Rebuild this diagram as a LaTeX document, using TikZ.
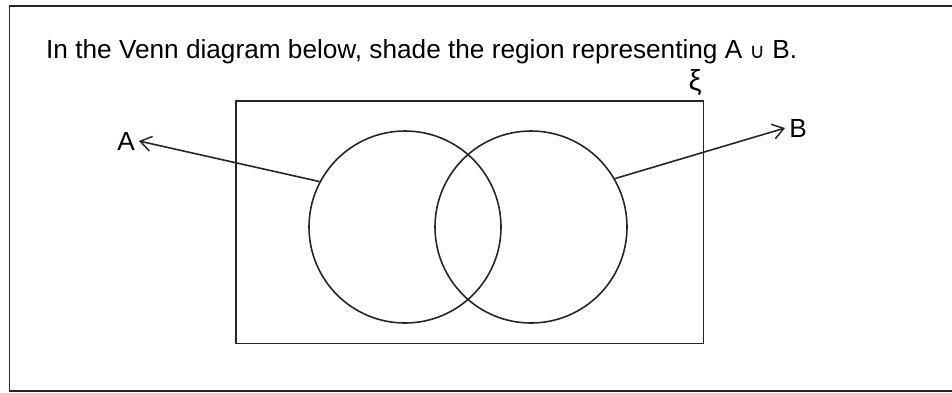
\documentclass[tikz,border=0pt]{standalone}
\usepackage{fontspec}
\setmainfont{Liberation Sans}
\newfontfamily\symfont{DejaVu Sans}
\usetikzlibrary{arrows.meta}
\begin{document}
\begin{tikzpicture}[x=1pt,y=-1pt,
  lbl/.style={font=\fontsize{26.2}{31}\selectfont, inner sep=3pt},
  ln/.style={line width=1.6pt, draw=black!85},
  setc/.style={circle, ln, minimum size=192pt, inner sep=0pt},
  pointer/.style={ln, -{Straight Barb[length=11pt,width=15pt,line width=1.5pt]}}]
\useasboundingbox (0,0) rectangle (952,392);
% outer frame (right side lies outside the picture)
\draw[line width=1.7pt, draw=black!85] (965,6) -- (9.5,6) -- (9.5,391) -- (965,391);
% title
\node[lbl, anchor=base west, inner sep=0pt] (title) at (46,58)
  {In the Venn diagram below, shade the region representing A {\symfont\fontsize{21}{24}\selectfont ∪} B.};
% universal set
\node[ln, draw, rectangle, minimum width=467.5pt, minimum height=242.5pt, anchor=north west, inner sep=0pt] (U) at (235,100) {};
\node[lbl, font=\fontsize{29}{33}\selectfont] (xi) at (695,82) {ξ};
% sets
\node[setc] (CA) at (405,227) {};
\node[setc] (CB) at (531,227) {};
% labels
\node[lbl, inner sep=4pt] (A) at (126,141) {A};
\node[lbl, inner sep=4pt] (B) at (798,128) {B};
\draw[pointer] (CA.152.7) -- (A.east);
\draw[pointer] (CB.30) -- (B.west);
\end{tikzpicture}
\end{document}
